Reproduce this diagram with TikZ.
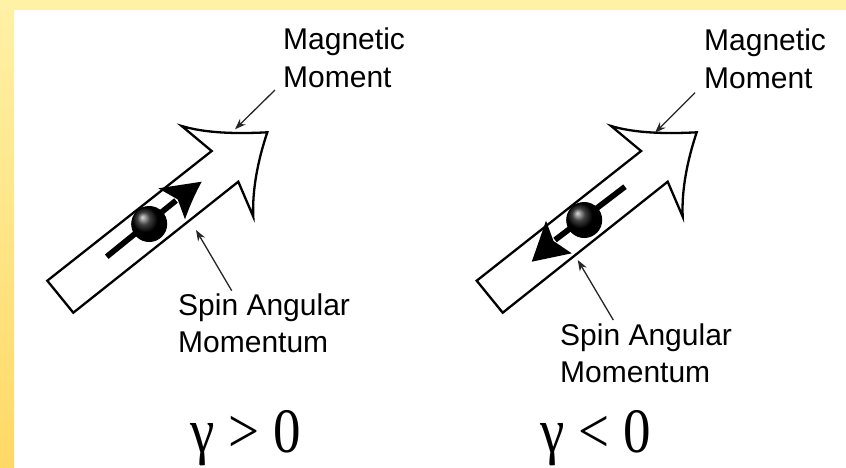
\documentclass[tikz,border=0pt]{standalone}
\usepackage{fontspec}
\setmainfont{Liberation Sans}
\newfontfamily\serifg{Liberation Serif}
\usetikzlibrary{arrows.meta}
\definecolor{bgtop}{HTML}{FFF1A6}
\definecolor{bgbot}{HTML}{FFD966}
\begin{document}
\begin{tikzpicture}[x=1pt,y=-1pt,
  outline/.style={draw=black,line width=2.3pt,fill=white,line join=miter,miter limit=20},
  ptr/.style={draw=black!85,line width=1.3pt,-{Stealth[length=11pt,width=8pt]}},
  spin/.style={draw=black,line width=5.7pt},
  spinhead/.style={fill=black},
  lbl/.style={font=\fontsize{30}{38}\selectfont,inner sep=0pt,anchor=base west},
  gam/.style={font=\serifg\fontsize{55}{60}\selectfont,inner sep=0pt,anchor=base west}]
\useasboundingbox (0,0) rectangle (846,467);
\fill[white] (0,0) rectangle (846,467);
\shade[top color=bgtop,bottom color=bgbot] (0,0) rectangle (14,467);
\fill[bgtop] (0,0) rectangle (846,10);

% ---- left big arrow (magnetic moment)
\path[outline] (47.3,280.7) -- (211.7,151) -- (181.7,126)
  .. controls (205,133) and (235,134) .. (267.3,132.3)
  .. controls (258,160) and (252,190) .. (253.3,216.7)
  -- (238.3,181.7) -- (73.3,312.7) -- cycle;
% ---- right big arrow
\begin{scope}[xshift=429.4pt]
\path[outline] (47.3,280.7) -- (211.7,151) -- (181.7,126)
  .. controls (205,133) and (235,134) .. (267.3,132.3)
  .. controls (258,160) and (252,190) .. (253.3,216.7)
  -- (238.3,181.7) -- (73.3,312.7) -- cycle;
\end{scope}

% ---- left spin (pointing up-right)
\draw[spin] (106.7,256.7) -- (176,200.5);
\fill[spinhead] (201.7,181.7) -- (158.3,188.3) -- (177.7,199.4) -- (185,219.3)
  .. controls (190,205) and (196,192) .. (201.7,181.7) -- cycle;
\shade[ball color=black] (149.2,224) circle (17.5);
\draw[line width=1pt] (149.2,224) circle (17.5);

% ---- right spin (pointing down-left)
\draw[spin] (625,186.7) -- (555,240);
\fill[spinhead] (531.7,261.7) -- (571.7,253.3) -- (553.5,241) -- (546,220.7)
  .. controls (541,235) and (536,250) .. (531.7,261.7) -- cycle;
\shade[ball color=black] (584.2,220) circle (17.5);
\draw[line width=1pt] (584.2,220) circle (17.5);

% ---- labels
\node[lbl] (mmL1) at (283,49) {Magnetic};
\node[lbl] (mmL2) at (283,87) {Moment};
\node[lbl] (mmR1) at (704,50) {Magnetic};
\node[lbl] (mmR2) at (704,88) {Moment};
\node[lbl] (saL1) at (178,315) {Spin Angular};
\node[lbl] (saL2) at (178,352) {Momentum};
\node[lbl] (saR1) at (560,345) {Spin Angular};
\node[lbl] (saR2) at (560,382) {Momentum};

\node[gam] (gL) at (190,452) {\scalebox{1}[1.15]{γ > 0}};
\node[gam] (gR) at (540,452) {\scalebox{1}[1.15]{γ < 0}};

% ---- pointers
\coordinate (mmLs) at (275,90);   \coordinate (mmLe) at (235,129.3);
\coordinate (mmRs) at (695,92.7); \coordinate (mmRe) at (655,132.7);
\coordinate (saLs) at (231.7,290.7); \coordinate (saLe) at (196,230);
\coordinate (saRs) at (613.3,320);   \coordinate (saRe) at (577.7,260);
\draw[ptr] (mmLs) -- (mmLe);
\draw[ptr] (mmRs) -- (mmRe);
\draw[ptr] (saLs) -- (saLe);
\draw[ptr] (saRs) -- (saRe);
\end{tikzpicture}
\end{document}
